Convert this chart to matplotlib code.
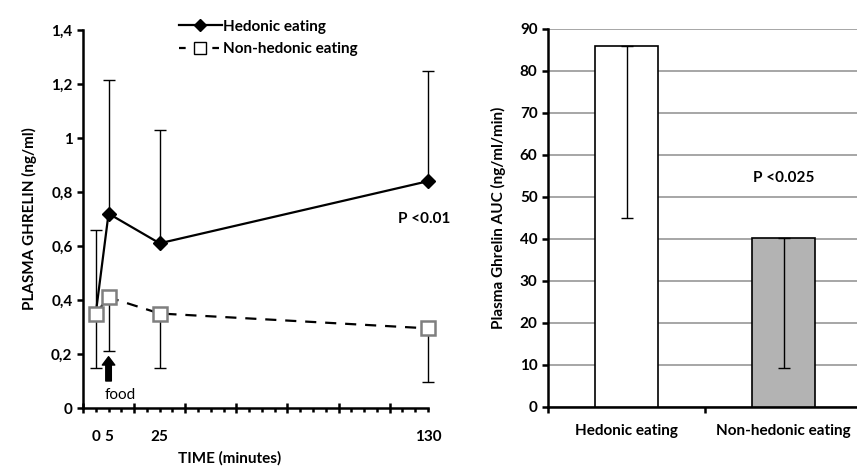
import matplotlib
matplotlib.use('Agg')
import matplotlib.pyplot as plt
from matplotlib.lines import Line2D
import numpy as np

plt.rcParams['font.family'] = ['Lato', 'DejaVu Sans']
plt.rcParams['font.weight'] = 'bold'
plt.rcParams['axes.labelweight'] = 'bold'

# left panel: plasma ghrelin over time
time_min = [0, 5, 25, 130]
hedonic = [0.35, 0.72, 0.61, 0.84]
hedonic_err = [0.31, 0.495, 0.42, 0.41]        # drawn upward only
non_hedonic = [0.35, 0.41, 0.35, 0.295]
non_hedonic_err = [0.20, 0.20, 0.20, 0.20]     # drawn downward only
time_labels = ['0', '5', '25', '130']
y_ticks = [0, 0.2, 0.4, 0.6, 0.8, 1.0, 1.2, 1.4]
y_labels = ['0', '0,2', '0,4', '0,6', '0,8', '1', '1,2', '1,4']

# right panel: AUC
groups = ['Hedonic eating', 'Non-hedonic eating']
auc = [85.9, 40.3]
auc_err = [40.8, 30.9]                          # drawn downward only
auc_colors = ['white', '#b3b3b3']

FS = 11
W, H = 857, 470
fig = plt.figure(figsize=(W / 100, H / 100), dpi=100)

# ---------- left ----------
ax1 = fig.add_axes([83 / W, (H - 408) / H, 345 / W, 378 / H])
for art in [ax1.errorbar(time_min, hedonic, yerr=[np.zeros(4), hedonic_err], fmt='none',
                         ecolor='black', elinewidth=1, capsize=4, capthick=1, zorder=2),
            ax1.errorbar(time_min, non_hedonic, yerr=[non_hedonic_err, np.zeros(4)],
                         fmt='none', ecolor='black', elinewidth=1, capsize=4,
                         capthick=1, zorder=2)]:
    for child in art.get_children():
        child.set_clip_on(False)
ax1.plot(time_min, hedonic, color='black', lw=1.6, marker='D', ms=7,
         mfc='black', mec='black', zorder=3, clip_on=False)
ax1.plot(time_min, non_hedonic, color='black', lw=1.6, ls=(0, (5, 4)), marker='s',
         ms=10, mfc='white', mec='#7f7f7f', mew=1.8, zorder=4, clip_on=False)

ax1.set_xlim(-5, 130)
ax1.set_ylim(0, 1.4)
ax1.set_yticks(y_ticks)
ax1.set_yticklabels(y_labels, fontsize=FS, fontweight='bold')
ax1.set_xticks(np.arange(-5, 131, 20))
ax1.set_xticks(np.arange(-5, 131, 5), minor=True)
ax1.set_xticklabels([])
ax1.tick_params(axis='x', which='major', direction='inout', length=7, width=1.8)
ax1.tick_params(axis='x', which='minor', direction='out', length=3, width=1.8)
ax1.tick_params(axis='y', direction='out', length=4, width=1.8)
for s in ['top', 'right']:
    ax1.spines[s].set_visible(False)
for s in ['left', 'bottom']:
    ax1.spines[s].set_linewidth(1.8)

trans = ax1.get_xaxis_transform()
for t, lab in zip(time_min, time_labels):
    ax1.text(t, -0.077, lab, transform=trans, ha='center', va='center',
             fontsize=FS, fontweight='bold')
ax1.text(0.426, -0.133, 'TIME (minutes)', transform=ax1.transAxes, ha='center',
         va='center', fontsize=FS, fontweight='bold')
ax1.set_ylabel('PLASMA GHRELIN (ng/ml)', fontsize=FS, fontweight='bold', labelpad=10)
ax1.text(128.6, 0.70, 'P <0.01', ha='center', va='center', fontsize=FS,
         fontweight='bold')

ax1.annotate('', xy=(5, 0.19), xytext=(5, 0.10),
             arrowprops=dict(facecolor='black', edgecolor='black', width=4,
                             headwidth=9, headlength=6))
ax1.text(9.4, 0.048, 'food', ha='center', va='center', fontsize=FS,
         fontweight='normal')

handles = [Line2D([], [], color='black', lw=1.6, marker='D', ms=6),
           Line2D([], [], color='black', lw=1.6, ls=(0, (3, 4.5)), marker='s',
                  ms=8, mfc='white', mec='black', mew=1)]
fig.legend(handles, ['Hedonic eating', 'Non-hedonic eating'], loc='upper left',
           bbox_to_anchor=(165 / W, 1 - 6 / H), frameon=False,
           prop={'size': FS, 'weight': 'bold'},
           handlelength=2.8, handletextpad=0.1, labelspacing=0.55)

# ---------- right ----------
ax2 = fig.add_axes([548 / W, (H - 407) / H, 314 / W, 378 / H])
x = np.arange(len(groups))
ax2.bar(x, auc, width=0.4, color=auc_colors, edgecolor='black', lw=1.2, zorder=3)
ax2.errorbar(x, auc, yerr=[auc_err, [0, 0]], fmt='none', ecolor='black',
             elinewidth=1, capsize=4, capthick=1, zorder=4)
ax2.set_xlim(-0.5, 1.5)
ax2.set_ylim(0, 90)
ax2.set_yticks(np.arange(0, 91, 10))
ax2.set_yticklabels([str(v) for v in range(0, 91, 10)], fontsize=FS, fontweight='bold')
ax2.yaxis.grid(True, color='#a6a6a6', lw=1.4)
ax2.set_axisbelow(True)
ax2.set_xticks(x)
ax2.set_xticklabels(groups, fontsize=FS, fontweight='bold')
ax2.tick_params(axis='x', which='major', length=0, pad=12)
ax2.set_xticks([-0.5, 0.5], minor=True)
ax2.tick_params(axis='x', which='minor', direction='out', length=4, width=1.8)
ax2.tick_params(axis='y', direction='out', length=4, width=1.8)
for s in ['top', 'right']:
    ax2.spines[s].set_visible(False)
for s in ['left', 'bottom']:
    ax2.spines[s].set_linewidth(1.8)
ax2.set_ylabel('Plasma Ghrelin AUC (ng/ml/min)', fontsize=FS, fontweight='bold',
               labelpad=10)
ax2.text(1, 54.5, 'P <0.025', ha='center', va='center', fontsize=FS,
         fontweight='bold')

fig.savefig('out.png', dpi=100)
